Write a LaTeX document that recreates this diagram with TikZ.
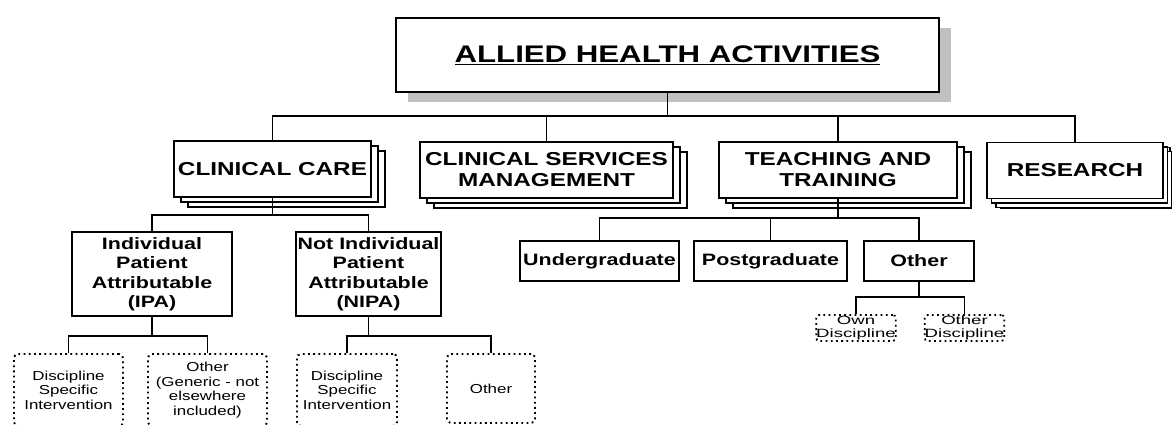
\documentclass[tikz,border=0pt]{standalone}
\usepackage{fontspec}
\setmainfont{Liberation Sans}[FakeStretch=1.3]
\newfontfamily\widefont{Liberation Sans}[FakeStretch=1.55]
\usetikzlibrary{shadows}
\definecolor{shadowgray}{RGB}{192,192,192}
\begin{document}
\begin{tikzpicture}[x=1pt,y=-1pt,
  line width=1.4pt,
  topbox/.style={draw, fill=white, line width=1.4pt, minimum width=543pt, minimum height=74pt, inner sep=0pt,
    drop shadow={shadow xshift=12pt, shadow yshift=-10pt, fill=shadowgray, opacity=1},
    font=\bfseries\fontsize{24}{28}\selectfont},
  stackbox/.style={draw, fill=white, line width=1.4pt, minimum height=56pt, inner sep=0pt, align=center,
    copy shadow={shadow xshift=14pt, shadow yshift=-10pt},
    copy shadow={shadow xshift=7pt, shadow yshift=-5pt},
    font=\bfseries\fontsize{18.7}{21}\selectfont},
  subbox/.style={draw, fill=white, line width=1.5pt, inner sep=0pt, align=center,
    font=\bfseries\fontsize{16.5}{19.5}\selectfont},
  dotbox/.style={draw, line width=1.9pt, dash pattern=on 1.8pt off 3.4pt, rounded corners=4pt,
    inner sep=0pt, align=center, font=\fontsize{13}{14.5}\selectfont},
  smalldot/.style={draw, line width=1.8pt, dash pattern=on 1.8pt off 3.4pt, rounded corners=3pt,
    inner sep=0pt, align=center, minimum height=26pt, font=\widefont\fontsize{12}{12.5}\selectfont},
  conn/.style={line width=1.7pt}
]
\useasboundingbox (0,0) rectangle (1172,424);

% top
\node[topbox] (top) at (667.5,55) {\underline{ALLIED HEALTH ACTIVITIES}};

% level 1
\node[stackbox, minimum width=197pt] (cc) at (272.5,169) {CLINICAL CARE};
\node[stackbox, minimum width=253pt] (csm) at (546.5,170) {CLINICAL SERVICES\\MANAGEMENT};
\node[stackbox, minimum width=238pt] (tt) at (838,170) {TEACHING AND\\TRAINING};
\node[stackbox, minimum width=176pt,
  copy shadow={shadow xshift=9pt, shadow yshift=-9pt},
  copy shadow={shadow xshift=4.5pt, shadow yshift=-4.5pt}] (res) at (1075,170.5) {RESEARCH};

\coordinate (bus1) at (669,116);
\draw[conn] (top.south) -- (top.south |- bus1);
\draw[conn] (cc.north) -- (cc.north |- bus1) -- (res.north |- bus1) -- (res.north);
\draw[conn] (csm.north) -- (csm.north |- bus1);
\draw[conn] (tt.north) -- (tt.north |- bus1);

% clinical care children
\node[subbox, minimum width=160pt, minimum height=84pt] (ipa) at (152,274) {Individual\\Patient\\Attributable\\(IPA)};
\node[subbox, minimum width=145pt, minimum height=84pt] (nipa) at (368.5,274) {Not Individual\\Patient\\Attributable\\(NIPA)};
\coordinate (bus2) at (272,215);
\draw[conn] (cc.south) -- (cc.south |- bus2);
\draw[conn] (ipa.north) -- (ipa.north |- bus2) -- (nipa.north |- bus2) -- (nipa.north);

% dotted boxes under IPA / NIPA
\node[dotbox, minimum width=109pt, minimum height=72pt] (d1) at (68.5,390) {Discipline\\Specific\\Intervention};
\node[dotbox, minimum width=119pt, minimum height=72pt] (d2) at (207.5,390) {Other\\(Generic - not\\elsewhere\\included)};
\node[dotbox, minimum width=100pt, minimum height=72pt] (d3) at (347,390) {Discipline\\Specific\\Intervention};
\node[dotbox, minimum width=88pt, minimum height=69pt] (d4) at (491,388.5) {Other};
\coordinate (bus3) at (152,336);
\draw[conn] (ipa.south) -- (ipa.south |- bus3);
\draw[conn] (d1.north) -- (d1.north |- bus3) -- (d2.north |- bus3) -- (d2.north);
\draw[conn] (nipa.south) -- (nipa.south |- bus3);
\draw[conn] (d3.north) -- (d3.north |- bus3) -- (d4.north |- bus3) -- (d4.north);

% teaching children
\node[subbox, minimum width=159pt, minimum height=40pt] (ug) at (599.5,261) {Undergraduate};
\node[subbox, minimum width=153pt, minimum height=40pt] (pg) at (770.5,261) {Postgraduate};
\node[subbox, minimum width=110pt, minimum height=40pt] (oth) at (919,261) {Other};
\coordinate (bus4) at (838,218);
\draw[conn] (tt.south) -- (tt.south |- bus4);
\draw[conn] (ug.north) -- (ug.north |- bus4) -- (oth.north |- bus4) -- (oth.north);
\draw[conn] (pg.north) -- (pg.north |- bus4);

% other children
\node[smalldot, minimum width=78pt] (own) at (856,328) {Own\\Discipline};
\node[smalldot, minimum width=79pt] (od) at (964.5,328) {Other\\Discipline};
\coordinate (bus5) at (919,297);
\draw[conn] (oth.south) -- (oth.south |- bus5);
\draw[conn] (own.north) -- (own.north |- bus5) -- (od.north |- bus5) -- (od.north);
\end{tikzpicture}
\end{document}
